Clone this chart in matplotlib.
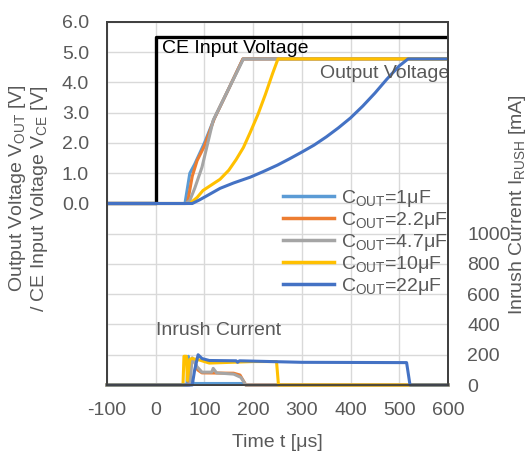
import matplotlib
matplotlib.use("Agg")
import matplotlib.pyplot as plt
from matplotlib.lines import Line2D

plt.rcParams['font.family'] = ['Liberation Sans', 'DejaVu Sans']
plt.rcParams['mathtext.fontset'] = 'custom'
plt.rcParams['mathtext.rm'] = 'Liberation Sans'
plt.rcParams['mathtext.it'] = 'Liberation Sans'
plt.rcParams['mathtext.default'] = 'regular'

# ---- data ----
labels = ["C$_{OUT}$=1μF", "C$_{OUT}$=2.2μF", "C$_{OUT}$=4.7μF", "C$_{OUT}$=10μF", "C$_{OUT}$=22μF"]
colors = ["#5B9BD5", "#ED7D31", "#A5A5A5", "#FFC000", "#4472C4"]

t_ce = [-100, 0, 0, 600]
v_ce = [0, 0, 5.5, 5.5]

t_v1 = [-100, 60, 65, 70, 80, 100, 120, 150, 179, 600]
v_v1 = [0, 0, 0.5, 1.0, 1.3, 2.0, 2.8, 3.8, 4.78, 4.78]
t_v2 = [-100, 65, 75, 85, 100, 120, 150, 179, 600]
v_v2 = [0, 0, 0.9, 1.42, 1.9, 2.8, 3.8, 4.78, 4.78]
t_v3 = [-100, 62, 70, 80, 95, 118, 150, 180, 600]
v_v3 = [0, 0, 0.1, 0.5, 1.2, 2.75, 3.8, 4.78, 4.78]
t_v4 = [-100, 70, 85, 97, 115, 132, 150, 165, 180, 194, 210, 225, 240, 251, 600]
v_v4 = [0, 0, 0.2, 0.43, 0.62, 0.8, 1.1, 1.45, 1.85, 2.35, 2.95, 3.6, 4.3, 4.78, 4.78]
t_v5 = [-100, 75, 90, 110, 132, 160, 194, 220, 250, 275, 300, 325, 350, 375,
        400, 425, 450, 475, 500, 518, 600]
v_v5 = [0, 0, 0.12, 0.3, 0.5, 0.68, 0.87, 1.05, 1.27, 1.48, 1.7, 1.93, 2.2, 2.5,
        2.83, 3.22, 3.65, 4.12, 4.55, 4.78, 4.78]

t_i1 = [-100, 64, 67, 72, 80, 180, 185, 600]
i_i1 = [0, 0, 190, 20, 10, 10, 0, 0]
t_i2 = [-100, 68, 72, 78, 86, 95, 160, 173, 185, 600]
i_i2 = [0, 0, 150, 170, 100, 80, 78, 66, 0, 0]
t_i3 = [-100, 70, 75, 85, 95, 115, 118, 125, 160, 175, 185, 600]
i_i3 = [0, 0, 180, 120, 85, 85, 110, 80, 72, 50, 0, 0]
t_i4 = [-100, 56, 58, 63, 65, 70, 75, 90, 110, 200, 248, 252, 600]
i_i4 = [0, 0, 190, 190, 30, 170, 175, 165, 145, 155, 155, 0, 0]
t_i5 = [-100, 75, 80, 87, 95, 110, 165, 168, 172, 300, 515, 522, 600]
i_i5 = [0, 0, 100, 200, 175, 162, 160, 150, 160, 150, 148, 0, 0]

xticks = [-100, 0, 100, 200, 300, 400, 500, 600]
yticks_left = [0, 1, 2, 3, 4, 5, 6]
yticks_right = [0, 200, 400, 600, 800, 1000]

v_series = [(t_v1, v_v1), (t_v2, v_v2), (t_v3, v_v3), (t_v4, v_v4), (t_v5, v_v5)]
i_series = [(t_i1, i_i1), (t_i2, i_i2), (t_i3, i_i3), (t_i4, i_i4), (t_i5, i_i5)]

# ---- figure ----
fig = plt.figure(figsize=(5.29, 4.51), dpi=100)
ax = fig.add_axes([107/529, 1-385/451, 341/529, 363/451])
ax2 = ax.twinx()

txt = "#595959"
fs = 14

ax.set_xlim(-100, 600)
ax.set_ylim(-6, 6)
ax2.set_ylim(0, 2400)

# grid
for x in xticks:
    ax.axvline(x, color="#D9D9D9", lw=1, zorder=0)
for y in range(-6, 7):
    ax.axhline(y, color="#D9D9D9", lw=1, zorder=0)

ax.plot(t_ce, v_ce, color="black", lw=2.4, zorder=3)
for (t, v), c in zip(v_series, colors):
    ax.plot(t, v, color=c, lw=2.2, zorder=4, solid_joinstyle='round')
for (t, i), c in zip(i_series, colors):
    ax2.plot(t, i, color=c, lw=2.2, clip_on=False, solid_joinstyle='round')

ax.set_xticks(xticks)
ax.set_xticklabels([str(x) for x in xticks])
ax.set_yticks(yticks_left)
ax.set_yticklabels([f"{y:.1f}" for y in yticks_left])
ax2.set_yticks(yticks_right)
ax2.set_yticklabels([str(y) for y in yticks_right])

for a in (ax, ax2):
    a.tick_params(length=0, labelsize=fs, colors=txt)
    for s in a.spines.values():
        s.set_color("#404040")
        s.set_linewidth(1.3)
ax.tick_params(axis='x', pad=12)
ax.tick_params(axis='y', pad=13)
ax2.tick_params(axis='y', pad=14)

ax.set_xlabel("Time t [μs]", fontsize=fs, color=txt, labelpad=11)
fig.text(18/529, 1-188/451, "Output Voltage V$_{OUT}$ [V]", rotation=90, fontsize=fs,
         color=txt, ha='center', va='center')
fig.text(40/529, 1-199/451, "/ CE Input Voltage V$_{CE}$ [V]", rotation=90, fontsize=fs,
         color=txt, ha='center', va='center')
fig.text(518/529, 1-205/451, "Inrush Current I$_{RUSH}$ [mA]", rotation=90, fontsize=fs,
         color=txt, ha='center', va='center')

ax.text(13, 5.13, "CE Input Voltage", fontsize=fs, color="black", va='center', ha='left', zorder=6)
ax.text(337, 4.3, "Output Voltage", fontsize=fs, color=txt, va='center', ha='left', zorder=6)
ax.text(0, -4.2, "Inrush Current", fontsize=fs, color=txt, va='center', ha='left', zorder=6)

handles = [Line2D([], [], color=c, lw=2.5) for c in colors]
leg = ax2.legend(handles, labels, loc='upper left', bbox_to_anchor=(283/529, 1-188/451),
                 bbox_transform=fig.transFigure, frameon=False, fontsize=fs,
                 handlelength=2.6, handletextpad=0.4, labelspacing=0.05,
                 borderpad=0, borderaxespad=0)
for tx in leg.get_texts():
    tx.set_color(txt)

fig.savefig("out.png", dpi=100)
